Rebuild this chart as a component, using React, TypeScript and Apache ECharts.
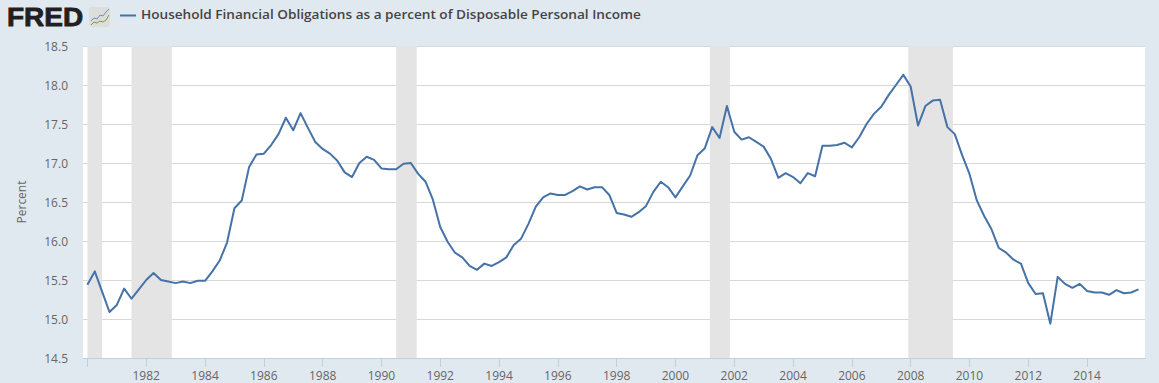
import React, { useEffect, useRef } from "react";
import * as echarts from "echarts";

const seriesName = "Household Financial Obligations as a percent of Disposable Personal Income";
const startYear = 1980;
const values = [
  15.44, 15.61, 15.35, 15.09, 15.18, 15.39, 15.26, 15.38, 15.5, 15.59, 15.5, 15.48,
  15.46, 15.48, 15.46, 15.49, 15.49, 15.61, 15.75, 15.98, 16.42, 16.52, 16.95, 17.11,
  17.12, 17.23, 17.37, 17.58, 17.42, 17.64, 17.45, 17.27, 17.18, 17.12, 17.03, 16.88,
  16.82, 17.0, 17.08, 17.04, 16.93, 16.92, 16.92, 16.99, 17.0, 16.86, 16.76, 16.53,
  16.18, 15.99, 15.85, 15.79, 15.68, 15.63, 15.71, 15.68, 15.73, 15.79, 15.95, 16.03,
  16.22, 16.44, 16.56, 16.61, 16.59, 16.59, 16.64, 16.7, 16.66, 16.69, 16.69, 16.59,
  16.36, 16.34, 16.31, 16.37, 16.45, 16.63, 16.76, 16.69, 16.56, 16.7, 16.84, 17.1,
  17.19, 17.46, 17.32, 17.73, 17.4, 17.3, 17.33, 17.27, 17.21, 17.05, 16.81, 16.87,
  16.82, 16.74, 16.87, 16.83, 17.22, 17.22, 17.23, 17.26, 17.2, 17.33, 17.5, 17.63,
  17.72, 17.87, 18.0, 18.13, 17.98, 17.48, 17.73, 17.8, 17.81, 17.46, 17.37, 17.1,
  16.86, 16.52, 16.32, 16.15, 15.91, 15.85, 15.76, 15.71, 15.46, 15.32, 15.33, 14.94,
  15.54, 15.45, 15.4, 15.45, 15.36, 15.34, 15.34, 15.31, 15.37, 15.33, 15.34, 15.38,
];
const recessions: [number, number][] = [
  [1980.0, 1980.5],
  [1981.5, 1982.87],
  [1990.5, 1991.2],
  [2001.17, 2001.85],
  [2007.92, 2009.44],
];
const tickYears = [1980, 1982, 1984, 1986, 1988, 1990, 1992, 1994, 1996, 1998, 2000, 2002, 2004, 2006, 2008, 2010, 2012, 2014];
const labelYears = tickYears.slice(1);
const logoBlue = [[91, 21], [94, 18], [97, 19], [100, 15], [103, 16], [106, 12], [109, 9]];
const logoGreen = [[91, 25], [94, 22], [97, 23], [100, 21], [103, 22], [106, 20], [109, 15]];

const FONT = '"Open Sans", sans-serif';

export default function App() {
  const ref = useRef<HTMLDivElement>(null);
  useEffect(() => {
    const chart = echarts.init(ref.current!, undefined, { renderer: "svg" });
    const data = values.map((v, i) => [startYear + i / 4, v]);
    chart.setOption({
      animation: false,
      backgroundColor: "#e1e9f0",
      grid: { left: 83, right: 14, top: 46, bottom: 25, backgroundColor: "#ffffff", show: true, borderWidth: 0 },
      xAxis: {
        type: "value",
        min: 1979.85,
        max: 2015.97,
        splitLine: { show: false },
        axisLine: { show: true, lineStyle: { color: "#c0d0e0", width: 1 } },
        axisTick: { show: true, length: 9, lineStyle: { color: "#c0d0e0", width: 1 }, customValues: tickYears },
        axisLabel: {
          show: true,
          customValues: labelYears,
          formatter: (v: number) => String(Math.round(v)),
          color: "#666666",
          fontFamily: FONT,
          fontSize: 12,
          margin: 11,
        },
      },
      yAxis: {
        type: "value",
        min: 14.5,
        max: 18.5,
        interval: 0.5,
        name: "Percent",
        nameLocation: "middle",
        nameGap: 56,
        nameTextStyle: { color: "#666666", fontFamily: FONT, fontSize: 12 },
        axisLine: { show: false },
        axisTick: { show: false },
        splitLine: { show: true, lineStyle: { color: "#d8d8d8", width: 1 } },
        axisLabel: {
          color: "#666666",
          fontFamily: FONT,
          fontSize: 12,
          margin: 15,
          formatter: (v: number) => v.toFixed(1),
        },
      },
      series: [
        {
          type: "line",
          name: seriesName,
          data,
          symbol: "none",
          silent: true,
          z: 5,
          lineStyle: { color: "#4572a7", width: 2, join: "round" },
          markArea: {
            silent: true,
            itemStyle: { color: "#e4e4e4", opacity: 1 },
            data: recessions.map(([a, b]) => [{ xAxis: a }, { xAxis: b }]),
          },
        },
      ],
      graphic: [
        {
          type: "text",
          x: 7,
          y: 5,
          scaleX: 1.12,
          style: {
            text: "FRED",
            fontFamily: '"Liberation Sans", Arial, sans-serif',
            fontWeight: "bold",
            fontSize: 25,
            fill: "#231f20",
            stroke: "#231f20",
            lineWidth: 0.8,
          },
        },
        { type: "rect", shape: { x: 89, y: 7, width: 21, height: 20, r: 2 }, style: { fill: "#dcdedc" } },
        { type: "polyline", shape: { points: logoGreen }, style: { stroke: "#7a9a4a", lineWidth: 1, fill: "none" } },
        { type: "polyline", shape: { points: logoBlue }, style: { stroke: "#6f8fb0", lineWidth: 1, fill: "none" } },
        { type: "line", shape: { x1: 120, y1: 15.5, x2: 136, y2: 15.5 }, style: { stroke: "#4572a7", lineWidth: 2 } },
        {
          type: "text",
          x: 141,
          y: 7.5,
          scaleX: 1.046,
          style: {
            text: seriesName,
            fontFamily: FONT,
            fontWeight: 600,
            fontSize: 13,
            fill: "#444444",
          },
        },
      ],
    });
    return () => chart.dispose();
  }, []);
  return (
    <div
      ref={ref}
      style={{ position: "fixed", left: 0, top: 0, width: 1159, height: 383 }}
    />
  );
}
